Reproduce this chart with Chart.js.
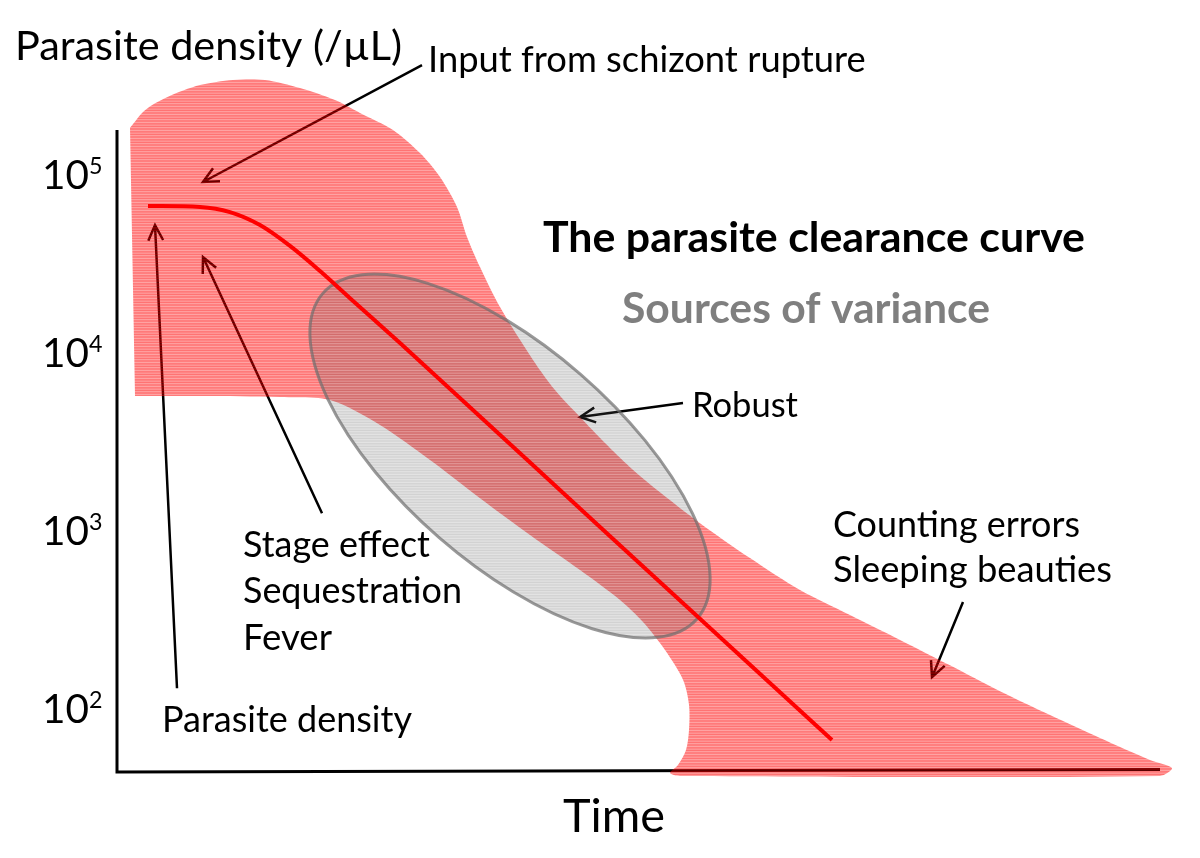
<!DOCTYPE html>
<html>
<head>
<meta charset="utf-8">
<script src="https://cdn.jsdelivr.net/npm/chart.js@4"></script>
<style>
  html, body { margin: 0; padding: 0; background: #fff; }
  canvas { display: block; }
</style>
</head>
<body>
<canvas id="chart" width="1200" height="858"></canvas>
<script>
// ===== Data (time in arbitrary units, density in parasites/uL) =====
const curveTime    = [3.0, 8.2, 11.2, 14.2, 17.2, 20.2, 23.2, 28.2, 48.2, 71.4];
const curveDensity = [66600, 65700, 61500, 52000, 39700, 28700, 20200, 11300, 1047, 66.5];

// outline of the variance envelope, traced clockwise from the top-left corner
const envelopeTime = [
    1.2, 2.7, 4.9, 8.2, 11.5, 14.7, 18.2, 21.7, 24.2, 27.5, 30.2, 32.2, 33.9, 34.9,
    36.2, 38.2, 41.5, 43.7, 46.2, 48.7, 51.2, 54.2, 58.2, 63.2, 68.2, 73.2, 78.2,
    83.2, 88.2, 93.2, 98.2, 103.2, 105.4,
    104.2, 56.2, 55.2,
    56.0, 56.8, 57.1, 57.1, 56.5, 54.7, 52.5, 50.2, 46.2, 41.2, 36.2, 31.2, 26.2,
    21.2, 16.2, 8.2, 1.7
];
const envelopeDensity = [
    183000, 230000, 272000, 318000, 340000, 340000, 306000, 262000, 222000, 178000,
    132000, 96800, 65700, 44600, 30200, 18000, 9080, 6150, 4340, 3100, 2270, 1640,
    1100, 700, 463, 335, 243, 175, 125, 91.9, 68.3, 51.4, 46.3,
    41.8, 41.8, 43.4,
    48.2, 58.5, 75.7, 105, 145, 213, 306, 407, 600, 944, 1520, 2490, 3920,
    5410, 5620, 5700, 5700
];

const yTickValues = [1e2, 1e3, 1e4, 1e5];
const yTickExponents = ["2", "3", "4", "5"];

// ===== Annotations (positions in data units) =====
const arrows = [
    { from: [30.4, 412000], to: [8.5, 90800] },
    { from: [5.9, 130], to: [3.7, 52000] },
    { from: [20.4, 1250], to: [8.5, 34400] },
    { from: [56.5, 5200], to: [46.2, 4340] },
    { from: [84.5, 397], to: [81.4, 150] }
];
const ellipse = { x: 39.2, y: 2620, rx: 248, ry: 108, angle: 41 };

const labels = [
    { text: "Parasite density (/\u00b5L)", x: 15, y: 60, w: 387 },
    { text: "Input from schizont rupture", x: 428, y: 72, w: 438 },
    { text: "The parasite clearance curve", x: 543, y: 252, w: 542, bold: true },
    { text: "Sources of variance", x: 622, y: 323, w: 368, bold: true, color: "#7f7f7f" },
    { text: "Robust", x: 692, y: 417, w: 106 },
    { text: "Counting errors", x: 833, y: 537, w: 247 },
    { text: "Sleeping beauties", x: 833, y: 582, w: 279 },
    { text: "Stage effect", x: 243, y: 557, w: 187 },
    { text: "Sequestration", x: 243, y: 603, w: 219 },
    { text: "Fever", x: 243, y: 650, w: 89 },
    { text: "Parasite density", x: 162, y: 732, w: 250 },
    { text: "Time", x: 563, y: 832, w: 102 }
];

const FONT = "Lato, 'Open Sans', sans-serif";

function stripes(ctx, rgb, alphas) {
    const c = document.createElement("canvas");
    c.width = 8;
    c.height = alphas.length;
    const g = c.getContext("2d");
    alphas.forEach((a, i) => {
        g.fillStyle = `rgba(${rgb},${a})`;
        g.fillRect(0, i, 8, 1);
    });
    return ctx.createPattern(c, "repeat");
}

function fitText(ctx, str, x, y, w, bold, color) {
    const weight = bold ? "bold" : "normal";
    ctx.font = `${weight} 40px ${FONT}`;
    const size = 40 * w / ctx.measureText(str).width;
    ctx.font = `${weight} ${size.toFixed(2)}px ${FONT}`;
    ctx.fillStyle = color || "#000";
    ctx.textAlign = "left";
    ctx.textBaseline = "alphabetic";
    ctx.fillText(str, x, y);
}

function drawArrow(ctx, x1, y1, x2, y2) {
    const ang = Math.atan2(y2 - y1, x2 - x1);
    const L = 17, spread = 0.45;
    ctx.beginPath();
    ctx.moveTo(x1, y1);
    ctx.lineTo(x2, y2);
    ctx.moveTo(x2 - L * Math.cos(ang - spread), y2 - L * Math.sin(ang - spread));
    ctx.lineTo(x2, y2);
    ctx.lineTo(x2 - L * Math.cos(ang + spread), y2 - L * Math.sin(ang + spread));
    ctx.stroke();
}

const sketchPlugin = {
    id: "sketch",
    beforeDatasetsDraw(chart) {
        const { ctx, scales: { x, y } } = chart;
        ctx.save();
        // axes
        ctx.strokeStyle = "#000";
        ctx.lineWidth = 3;
        ctx.lineCap = "butt";
        ctx.beginPath();
        ctx.moveTo(x.getPixelForValue(-0.1), y.getPixelForValue(178000));
        ctx.lineTo(x.getPixelForValue(-0.1), y.getPixelForValue(44));
        ctx.lineTo(x.getPixelForValue(104.2), y.getPixelForValue(45.5));
        ctx.stroke();
        // arrows (sit under the translucent envelope)
        ctx.lineWidth = 2.5;
        ctx.lineJoin = "miter";
        arrows.forEach(a => {
            drawArrow(ctx,
                x.getPixelForValue(a.from[0]), y.getPixelForValue(a.from[1]),
                x.getPixelForValue(a.to[0]), y.getPixelForValue(a.to[1]));
        });
        ctx.restore();
    },
    afterDatasetDraw(chart, args) {
        if (args.index !== 1) return;
        const { ctx, scales: { x, y } } = chart;
        ctx.save();
        ctx.beginPath();
        ctx.ellipse(x.getPixelForValue(ellipse.x), y.getPixelForValue(ellipse.y),
            ellipse.rx, ellipse.ry, ellipse.angle * Math.PI / 180, 0, Math.PI * 2);
        ctx.fillStyle = stripes(ctx, "90,90,90", [0.24, 0.24, 0.17, 0.26, 0.22, 0.2, 0.27, 0.18]);
        ctx.fill();
        ctx.strokeStyle = "rgba(110,110,110,0.7)";
        ctx.lineWidth = 3;
        ctx.stroke();
        ctx.restore();
    },
    afterDraw(chart) {
        const { ctx, scales: { y } } = chart;
        ctx.save();
        yTickValues.forEach((v, i) => {
            const py = y.getPixelForValue(v);
            fitText(ctx, "10", 42, py + 14, 47);
            fitText(ctx, yTickExponents[i], 89, py - 1, 13.5);
        });
        labels.forEach(l => fitText(ctx, l.text, l.x, l.y, l.w, l.bold, l.color));
        ctx.restore();
    }
};

const ctx = document.getElementById("chart").getContext("2d");
const bandFill = stripes(ctx, "255,0,0", [0.5, 0.5, 0.36, 0.52, 0.48, 0.42, 0.55, 0.38]);

new Chart(ctx, {
    type: "line",
    data: {
        datasets: [
            {
                label: "Parasite density",
                data: curveTime.map((t, i) => ({ x: t, y: curveDensity[i] })),
                borderColor: "#ff0000",
                borderWidth: 4,
                pointRadius: 0,
                cubicInterpolationMode: "monotone",
                fill: false
            },
            {
                label: "Sources of variance",
                data: envelopeTime.map((t, i) => ({ x: t, y: envelopeDensity[i] })),
                borderWidth: 0,
                borderColor: "rgba(0,0,0,0)",
                backgroundColor: bandFill,
                pointRadius: 0,
                tension: 0.3,
                fill: "shape"
            }
        ]
    },
    options: {
        responsive: false,
        animation: false,
        layout: { padding: { left: 118, right: 25, top: 60, bottom: 80 } },
        plugins: { legend: { display: false }, tooltip: { enabled: false } },
        scales: {
            x: { type: "linear", min: 0, max: 105.7, display: false },
            y: { type: "logarithmic", min: 40.7, max: 440000, display: false }
        }
    },
    plugins: [sketchPlugin]
});
</script>
</body>
</html>
